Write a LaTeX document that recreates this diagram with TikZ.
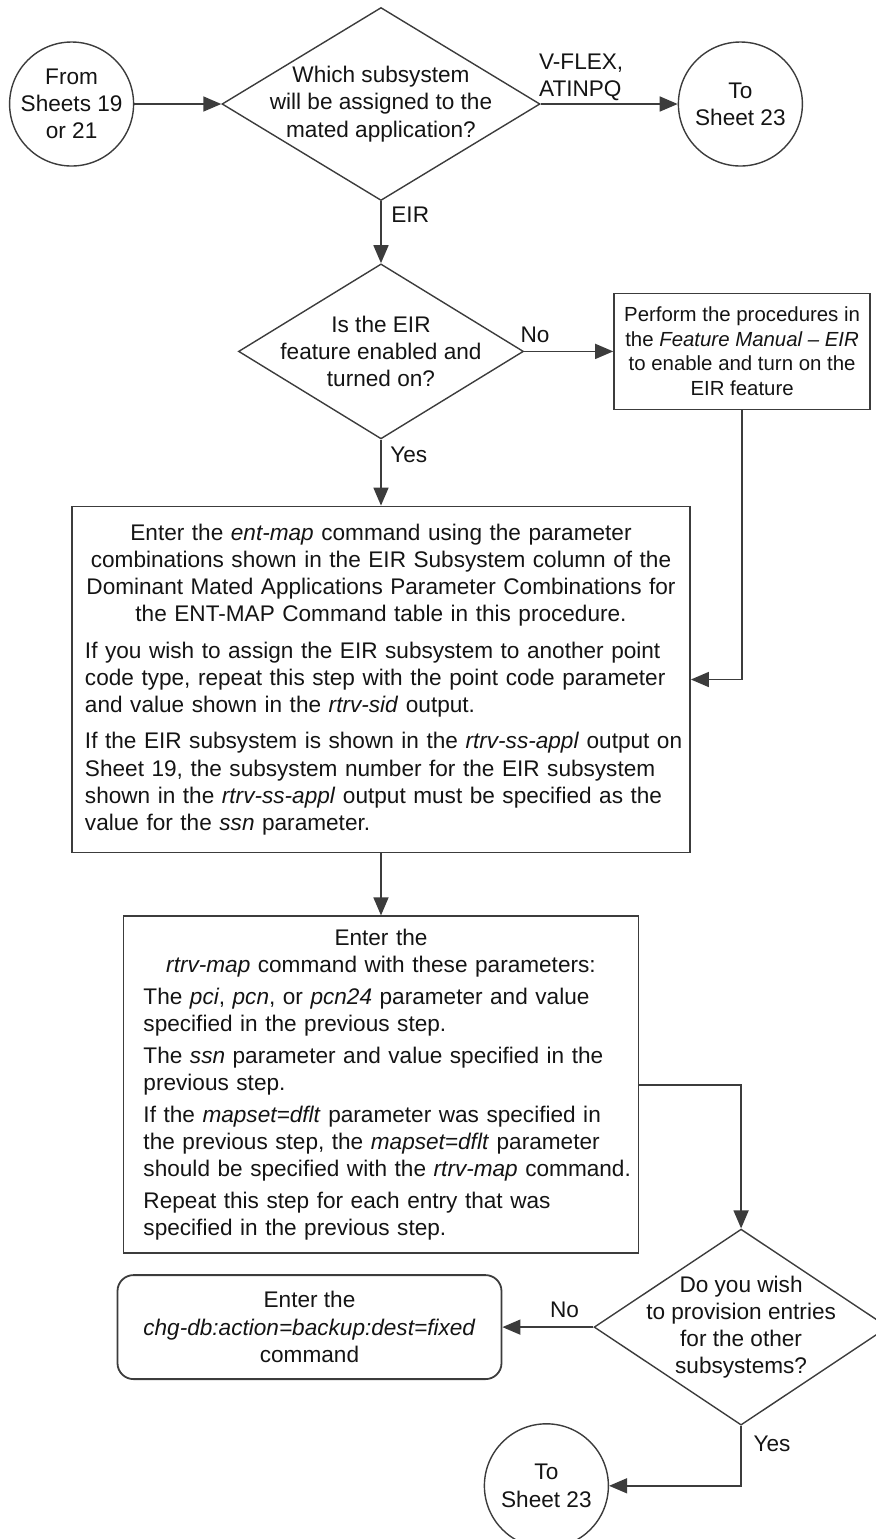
\documentclass[tikz,border=0pt]{standalone}
\usepackage{fontspec}
\setmainfont{Liberation Sans}
\usetikzlibrary{shapes.geometric, arrows.meta, positioning}
\definecolor{linegray}{RGB}{60,60,60}
\definecolor{textgray}{RGB}{20,20,20}
\newcommand{\leftpara}{\raggedright\rightskip=-12pt plus 1fil\relax}

\begin{document}
\begin{tikzpicture}[
  node distance=1cm,
  txt/.style={font=\fontsize{11.3}{13.6}\selectfont, text=textgray},
  decision/.style={diamond, draw=linegray, line width=0.7pt, inner xsep=-20pt, inner ysep=0pt, align=center, txt},
  sheet/.style={circle, draw=linegray, line width=0.7pt, inner sep=-1pt, minimum size=62pt, align=center, txt},
  stepbox/.style={rectangle, draw=linegray, line width=0.9pt, inner ysep=0pt, txt,
    execute at begin node={\setlength{\parskip}{#1}\setlength{\parindent}{0pt}}},
  stepbox/.default=0pt,
  lbl/.style={inner sep=1pt, txt},
  arrow/.style={-{Triangle[length=9pt, width=7.5pt]}, draw=linegray, line width=0.8pt}
]
\useasboundingbox (-190.5pt,52pt) rectangle (247.5pt,-717.5pt);

% Subsystem choice
\node[decision, minimum width=159pt, minimum height=96.5pt, shape aspect=1.65] (whichss) at (0,0) {Which subsystem\\will be assigned to the\\mated application?};
\node[sheet, left=43.5pt of whichss] (fromsheet) {From\\Sheets 19\\or 21};
\node[sheet, right=68.5pt of whichss] (tosheet) {To\\Sheet 23};

% EIR feature check
\node[decision, below=31pt of whichss, minimum width=142.5pt, minimum height=87.5pt, shape aspect=1.63] (eiron) {Is the EIR\\feature enabled and\\turned on?};
\node[stepbox, right=44.5pt of eiron, minimum width=128pt, minimum height=58pt, align=center,
  font=\fontsize{10.2}{12.25}\selectfont] (enablefeat) {Perform the procedures in\\the \textit{Feature Manual -- EIR}\\to enable and turn on the\\EIR feature};

% Commands
\node[stepbox=4.6pt, below=33pt of eiron, text width=296pt, inner xsep=6.5pt, minimum height=173pt] (entmap) {%
{\centering Enter the \textit{ent-map} command using the parameter\\
combinations shown in the EIR Subsystem column of the\\
Dominant Mated Applications Parameter Combinations for\\
the ENT-MAP Command table in this procedure.\par}
\leftpara If you wish to assign the EIR subsystem to another point\\
code type, repeat this step with the point code parameter\\
and value shown in the \textit{rtrv-sid} output.\par
If the EIR subsystem is shown in the \textit{rtrv-ss-appl} output on\\
Sheet 19, the subsystem number for the EIR subsystem\\
shown in the \textit{rtrv-ss-appl} output must be specified as the\\
value for the \textit{ssn} parameter.};

\node[stepbox=2.3pt, below=31pt of entmap, text width=237.5pt, inner xsep=10pt, minimum height=168.5pt] (rtrvmap) {%
{\centering Enter the\\
\textit{rtrv-map} command with these parameters:\par}
\leftpara The \textit{pci}, \textit{pcn}, or \textit{pcn24} parameter and value\\
specified in the previous step.\par
The \textit{ssn} parameter and value specified in the\\
previous step.\par
If the \textit{mapset=dflt} parameter was specified in\\
the previous step, the \textit{mapset=dflt} parameter\\
should be specified with the \textit{rtrv-map} command.\par
Repeat this step for each entry that was\\
specified in the previous step.};

\node[stepbox, rounded corners=8pt, below=10pt of rtrvmap, xshift=-35.75pt, minimum width=192pt, minimum height=52pt,
  align=center] (backup) {Enter the\\\textit{chg-db:action=backup:dest=fixed}\\command};

% Other subsystems
\node[decision, right=45.5pt of backup, minimum width=147pt, minimum height=98pt, shape aspect=1.5] (moress) {Do you wish\\to provision entries\\for the other\\subsystems?};
\node[sheet, left=66pt of moress.south, yshift=-30pt] (tosheetb) {To\\Sheet 23};

% Labels
\node[lbl, align=left, above right=0.5pt and -2pt of whichss.east] (lblvflex) {V-FLEX,\\ATINPQ};
\node[lbl, below right=1.5pt and 4pt of whichss.south] (lbleir) {EIR};
\node[lbl, above right=3pt and -3pt of eiron.east] (lblno) {No};
\node[lbl, below right=2.5pt and 3.5pt of eiron.south] (lblyes) {Yes};
\node[lbl, above left=3.5pt and 6pt of moress.west] (lblnob) {No};
\node[lbl, below right=4pt and 5pt of moress.south] (lblyesb) {Yes};

\draw[arrow] (fromsheet) -- (whichss);
\draw[arrow] (whichss) -- (tosheet);
\draw[arrow] (whichss) -- (eiron);
\draw[arrow] (eiron) -- (enablefeat);
\draw[arrow] (eiron) -- (entmap);
\draw[arrow] (enablefeat) |- (entmap);
\draw[arrow] (entmap) -- (rtrvmap);
\draw[arrow] (rtrvmap) -| (moress);
\draw[arrow] (moress) -- (backup);
\draw[arrow] (moress) |- (tosheetb);
\end{tikzpicture}
\end{document}
